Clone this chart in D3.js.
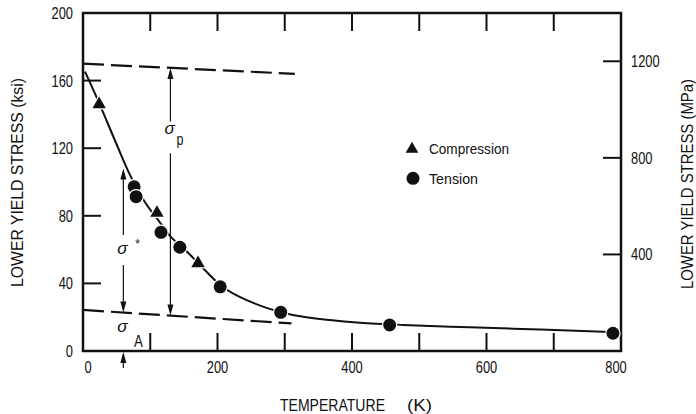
<!DOCTYPE html>
<html><head><meta charset="utf-8">
<script src="https://cdn.jsdelivr.net/npm/d3@7"></script>
<style>
body{margin:0;background:#fff;}
text{font-family:"Liberation Sans",Arial,sans-serif;fill:#111;}
</style></head>
<body>
<svg id="c" width="696" height="414"></svg>
<script>
// ---- data ----
const compressionT = [24, 110, 171];
const compressionS = [146, 81.7, 51.9];
const tensionT = [76, 79, 116, 144, 204, 294, 456, 788];
const tensionS = [97.2, 91.3, 70.2, 61.4, 38.0, 22.9, 15.4, 10.5];
const curveT = [3, 24, 51, 70, 92, 114, 132, 152, 174, 204, 233, 274, 312, 367, 412, 476, 575, 680, 784];
const curveS = [165.3, 146.7, 121.3, 104.1, 88.2, 76.3, 66.9, 59.8, 50.9, 39.1, 32.0, 25.4, 21.3, 18.3, 16.7, 15.4, 14.0, 12.7, 11.2];
const upperT = [0, 315];      // sigma_p reference line
const upperS = [170, 164];
const lowerT = [0, 310];      // athermal stress line
const lowerS = [24.3, 16.3];
const xTicks = [0, 100, 200, 300, 400, 500, 600, 700, 800];
const xLabels = [0, 200, 400, 600, 800];
const yTicks = [0, 40, 80, 120, 160, 200];
const mpaTicks = [400, 800, 1200];
const legendNames = ["Compression", "Tension"];

// ---- scales ----
const svg = d3.select("#c");
const x = d3.scaleLinear().domain([0, 800]).range([83, 621]);
const y = d3.scaleLinear().domain([0, 200]).range([351, 13]);
const y2 = d3.scaleLinear().domain([0, 1400]).range([351, 13]);
const x0 = x(0), x1 = x(800), yb = y(0), yt = y(200);
const TL = 18;

// narrow text helper (typewriter-like condensed digits)
function ntext(g, px, py, str, anchor, size) {
  return g.append("text").attr("transform", `translate(${px},${py}) scale(0.78,1)`)
    .attr("text-anchor", anchor).attr("font-size", size).text(str);
}

// frame
svg.append("rect").attr("x", x0).attr("y", yt).attr("width", x1 - x0).attr("height", yb - yt)
  .attr("fill", "none").attr("stroke", "#111").attr("stroke-width", 2.5);

// x ticks (inward, top and bottom)
const inner = xTicks.filter(d => d > 0 && d < 800);
svg.append("g").selectAll("line").data(inner).join("line")
  .attr("x1", d => x(d)).attr("x2", d => x(d)).attr("y1", yb).attr("y2", yb - TL)
  .attr("stroke", "#111").attr("stroke-width", 2);
svg.append("g").selectAll("line").data(inner).join("line")
  .attr("x1", d => x(d)).attr("x2", d => x(d)).attr("y1", yt).attr("y2", yt + TL)
  .attr("stroke", "#111").attr("stroke-width", 2);
const gx = svg.append("g");
xLabels.forEach(d => ntext(gx, x(d) + (d === 0 ? 5 : (d === 800 ? -5 : 0)), 372.5, d, "middle", 16.5));

// left y ticks
svg.append("g").selectAll("line").data(yTicks.filter(d => d > 0 && d < 200)).join("line")
  .attr("x1", x0).attr("x2", x0 + TL).attr("y1", d => y(d)).attr("y2", d => y(d))
  .attr("stroke", "#111").attr("stroke-width", 2);
const gy = svg.append("g");
yTicks.forEach(d => ntext(gy, 73, y(d) + 6, d, "end", 16.5));

// right MPa ticks
svg.append("g").selectAll("line").data(mpaTicks).join("line")
  .attr("x1", x1).attr("x2", x1 - TL).attr("y1", d => y2(d)).attr("y2", d => y2(d))
  .attr("stroke", "#111").attr("stroke-width", 2);
const gy2 = svg.append("g");
mpaTicks.forEach(d => ntext(gy2, 631, y2(d) + 6, d, "start", 16.5));

// axis titles
svg.append("text").attr("transform", "translate(23,182.5) rotate(-90)")
  .attr("text-anchor", "middle").attr("font-size", 16.5)
  .attr("textLength", 209).attr("lengthAdjust", "spacingAndGlyphs")
  .text("LOWER YIELD STRESS (ksi)");
svg.append("text").attr("transform", "translate(693,184) rotate(-90)")
  .attr("text-anchor", "middle").attr("font-size", 16)
  .attr("textLength", 210).attr("lengthAdjust", "spacingAndGlyphs")
  .text("LOWER YIELD STRESS (MPa)");
svg.append("text").attr("x", 332.5).attr("y", 411)
  .attr("text-anchor", "middle").attr("font-size", 16)
  .attr("textLength", 105).attr("lengthAdjust", "spacingAndGlyphs").text("TEMPERATURE");
svg.append("text").attr("x", 419.5).attr("y", 411)
  .attr("text-anchor", "middle").attr("font-size", 16)
  .attr("textLength", 25).attr("lengthAdjust", "spacingAndGlyphs").text("(K)");

// dashed reference lines
const lineGen = d3.line().x(d => x(d[0])).y(d => y(d[1]));
svg.append("path").datum(upperT.map((t, i) => [t, upperS[i]])).attr("d", lineGen)
  .attr("fill", "none").attr("stroke", "#111").attr("stroke-width", 2.2).attr("stroke-dasharray", "21,7");
svg.append("path").datum(lowerT.map((t, i) => [t, lowerS[i]])).attr("d", lineGen)
  .attr("fill", "none").attr("stroke", "#111").attr("stroke-width", 2.2).attr("stroke-dasharray", "21,7");

// fitted curve
const curveGen = d3.line().x(d => x(d[0])).y(d => y(d[1])).curve(d3.curveCatmullRom);
svg.append("path").datum(curveT.map((t, i) => [t, curveS[i]])).attr("d", curveGen)
  .attr("fill", "none").attr("stroke", "#111").attr("stroke-width", 2);

// helpers
const interpS = (T, Ts, Ss) => Ss[0] + (Ss[1] - Ss[0]) * (T - Ts[0]) / (Ts[1] - Ts[0]);
function arrowHead(px, py, dir) { // dir: -1 up, +1 down (tip at px,py)
  const L = 11, W = 3;
  svg.append("path").attr("d", `M${px},${py}L${px - W},${py - dir * L}L${px + W},${py - dir * L}Z`)
    .attr("fill", "#111");
}
function vline(px, ya, yb2) {
  svg.append("line").attr("x1", px).attr("x2", px).attr("y1", ya).attr("y2", yb2)
    .attr("stroke", "#111").attr("stroke-width", 1.2);
}

// sigma_p arrow
const Tp = 130;
const pTop = y(interpS(Tp, upperT, upperS)), pBot = y(interpS(Tp, lowerT, lowerS));
vline(x(Tp), pTop + 6, y(135.8)); vline(x(Tp), y(117), pBot - 6);
arrowHead(x(Tp), pTop, -1); arrowHead(x(Tp), pBot, 1);
svg.append("text").attr("x", x(Tp) - 6).attr("y", y(128.5)).attr("font-family", "DejaVu Sans")
  .attr("font-size", 17).attr("font-style", "italic").text("σ");
ntext(svg, x(Tp) + 6, y(122), "p", "start", 16);

// sigma* arrow
const Ts = 60;
const sTop = y(108), sBot = y(interpS(Ts, lowerT, lowerS));
vline(x(Ts), sTop + 6, y(68.6)); vline(x(Ts), y(50.9), sBot - 6);
arrowHead(x(Ts), sTop, -1); arrowHead(x(Ts), sBot, 1);
svg.append("text").attr("x", x(Ts) - 6).attr("y", y(57.5)).attr("font-family", "DejaVu Sans")
  .attr("font-size", 17).attr("font-style", "italic").text("σ");
svg.append("text").attr("x", x(Ts) + 12).attr("y", y(61)).attr("font-size", 12).text("*");

// sigma_A label and arrow below axis
svg.append("text").attr("x", x(Ts) - 6).attr("y", y(11)).attr("font-family", "DejaVu Sans")
  .attr("font-size", 17).attr("font-style", "italic").text("σ");
ntext(svg, x(Ts) + 15, y(2.3), "A", "middle", 17);
vline(x(Ts), y(-2), y(-10));
arrowHead(x(Ts), y(0) + 1, -1);

// markers
const tri = d3.symbol().type(d3.symbolTriangle).size(78);
svg.append("g").selectAll("path").data(compressionT.map((t, i) => [t, compressionS[i]])).join("path")
  .attr("d", tri).attr("transform", d => `translate(${x(d[0])},${y(d[1])})`)
  .attr("fill", "#111").attr("stroke", "#fff").attr("stroke-width", 2.5).attr("paint-order", "stroke");
svg.append("g").selectAll("circle").data(tensionT.map((t, i) => [t, tensionS[i]])).join("circle")
  .attr("cx", d => x(d[0])).attr("cy", d => y(d[1])).attr("r", 6.5)
  .attr("fill", "#111").attr("stroke", "#fff").attr("stroke-width", 2.5).attr("paint-order", "stroke");

// legend
const lg = svg.append("g");
lg.append("path").attr("d", d3.symbol().type(d3.symbolTriangle).size(70)())
  .attr("transform", "translate(412,149)").attr("fill", "#111");
lg.append("circle").attr("cx", 413).attr("cy", 178.3).attr("r", 6.5).attr("fill", "#111");
lg.selectAll("text").data(legendNames).join("text")
  .attr("x", 429).attr("y", (d, i) => 154 + i * 30)
  .attr("font-size", 14.5).attr("textLength", (d, i) => i === 0 ? 80 : 49)
  .attr("lengthAdjust", "spacingAndGlyphs").text(d => d);
</script>
</body></html>
